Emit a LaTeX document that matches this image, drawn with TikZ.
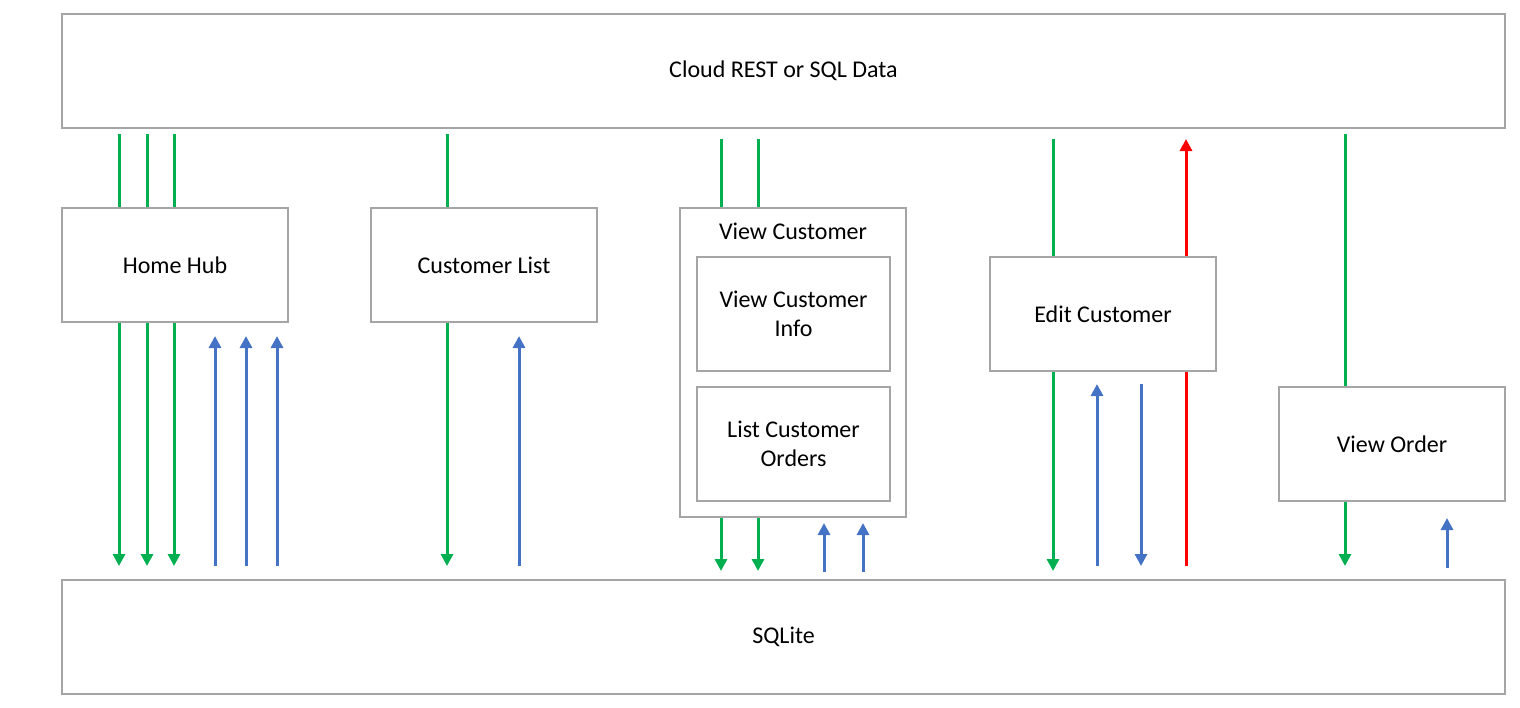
\documentclass[tikz,border=0pt]{standalone}
\usepackage{fontspec}
\setmainfont{Carlito}
\usetikzlibrary{arrows.meta}
\definecolor{boxgray}{HTML}{A5A5A5}
\definecolor{lgreen}{HTML}{00B050}
\definecolor{lblue}{HTML}{4472C4}
\definecolor{lred}{HTML}{FF0000}
\begin{document}
\begin{tikzpicture}[x=0.5pt,y=-0.5pt,
  box/.style={draw=boxgray, line width=1pt, inner sep=0pt, align=center,
    font=\fontsize{12}{14.5}\selectfont},
  lbl/.style={inner sep=0pt, font=\fontsize{12}{14.5}\selectfont},
  gl/.style={draw=lgreen, line width=1.5pt},
  bl/.style={draw=lblue, line width=1.5pt},
  rl/.style={draw=lred, line width=1.5pt},
  tip/.style={-{Triangle[width=6pt,length=6pt]}}
]
\useasboundingbox (0,0) rectangle (1520,707);

% boxes
\node[box, minimum width=721.5pt, minimum height=57pt] (cloud) at (783.5,71) {Cloud REST or SQL Data};
\node[box, minimum width=721.5pt, minimum height=57pt] (sqlite) at (783.5,637) {SQLite};
\node[box, minimum width=113pt, minimum height=57pt] (hub) at (175,265) {Home Hub};
\node[box, minimum width=113pt, minimum height=57pt] (clist) at (484,265) {Customer List};
\node[box, minimum width=113pt, minimum height=154.5pt] (vc) at (793,362.5) {};
\node[lbl] (vclabel) at (793,231) {View Customer};
\node[box, minimum width=96.5pt, minimum height=57pt] (vci) at (793.5,314) {View Customer\\Info};
\node[box, minimum width=96.5pt, minimum height=57pt] (lco) at (793.5,444) {List Customer\\Orders};
\node[box, minimum width=113pt, minimum height=57pt] (edit) at (1103,314) {Edit Customer};
\node[box, minimum width=113pt, minimum height=57pt] (vo) at (1392,444) {View Order};

% Home Hub
\foreach \x in {119,147,174} {
  \draw[gl, shorten <=2.5pt] (\x,0 |- cloud.south) -- (\x,0 |- hub.north);
  \draw[gl, tip, shorten >=6.5pt] (\x,0 |- hub.south) -- (\x,0 |- sqlite.north);
}
\foreach \x in {215,246,277} {
  \draw[bl, tip, shorten <=6.5pt, shorten >=6.5pt] (\x,0 |- sqlite.north) -- (\x,0 |- hub.south);
}

% Customer List
\draw[gl, shorten <=2.5pt] (447,0 |- cloud.south) -- (447,0 |- clist.north);
\draw[gl, tip, shorten >=6.5pt] (447,0 |- clist.south) -- (447,0 |- sqlite.north);
\draw[bl, tip, shorten <=6.5pt, shorten >=6.5pt] (519,0 |- sqlite.north) -- (519,0 |- clist.south);

% View Customer
\foreach \x in {721,758} {
  \draw[gl, shorten <=5pt] (\x,0 |- cloud.south) -- (\x,0 |- vc.north);
  \draw[gl, tip, shorten >=4pt] (\x,0 |- vc.south) -- (\x,0 |- sqlite.north);
}
\foreach \x in {824,863} {
  \draw[bl, tip, shorten <=3.5pt, shorten >=2.5pt] (\x,0 |- sqlite.north) -- (\x,0 |- vc.south);
}

% Edit Customer
\draw[gl, shorten <=5pt] (1053,0 |- cloud.south) -- (1053,0 |- edit.north);
\draw[gl, tip, shorten >=4pt] (1053,0 |- edit.south) -- (1053,0 |- sqlite.north);
\draw[rl, tip, shorten >=5pt] (1186,0 |- edit.north) -- (1186,0 |- cloud.south);
\draw[rl, shorten <=6.5pt] (1186,0 |- sqlite.north) -- (1186,0 |- edit.south);
\draw[bl, tip, shorten <=6.5pt, shorten >=6pt] (1097,0 |- sqlite.north) -- (1097,0 |- edit.south);
\draw[bl, tip, shorten <=6pt, shorten >=6.5pt] (1141,0 |- edit.south) -- (1141,0 |- sqlite.north);

% View Order
\draw[gl, shorten <=2.5pt] (1345,0 |- cloud.south) -- (1345,0 |- vo.north);
\draw[gl, tip, shorten >=6.5pt] (1345,0 |- vo.south) -- (1345,0 |- sqlite.north);
\draw[bl, tip, shorten <=5.5pt, shorten >=8pt] (1447,0 |- sqlite.north) -- (1447,0 |- vo.south);
\end{tikzpicture}
\end{document}
